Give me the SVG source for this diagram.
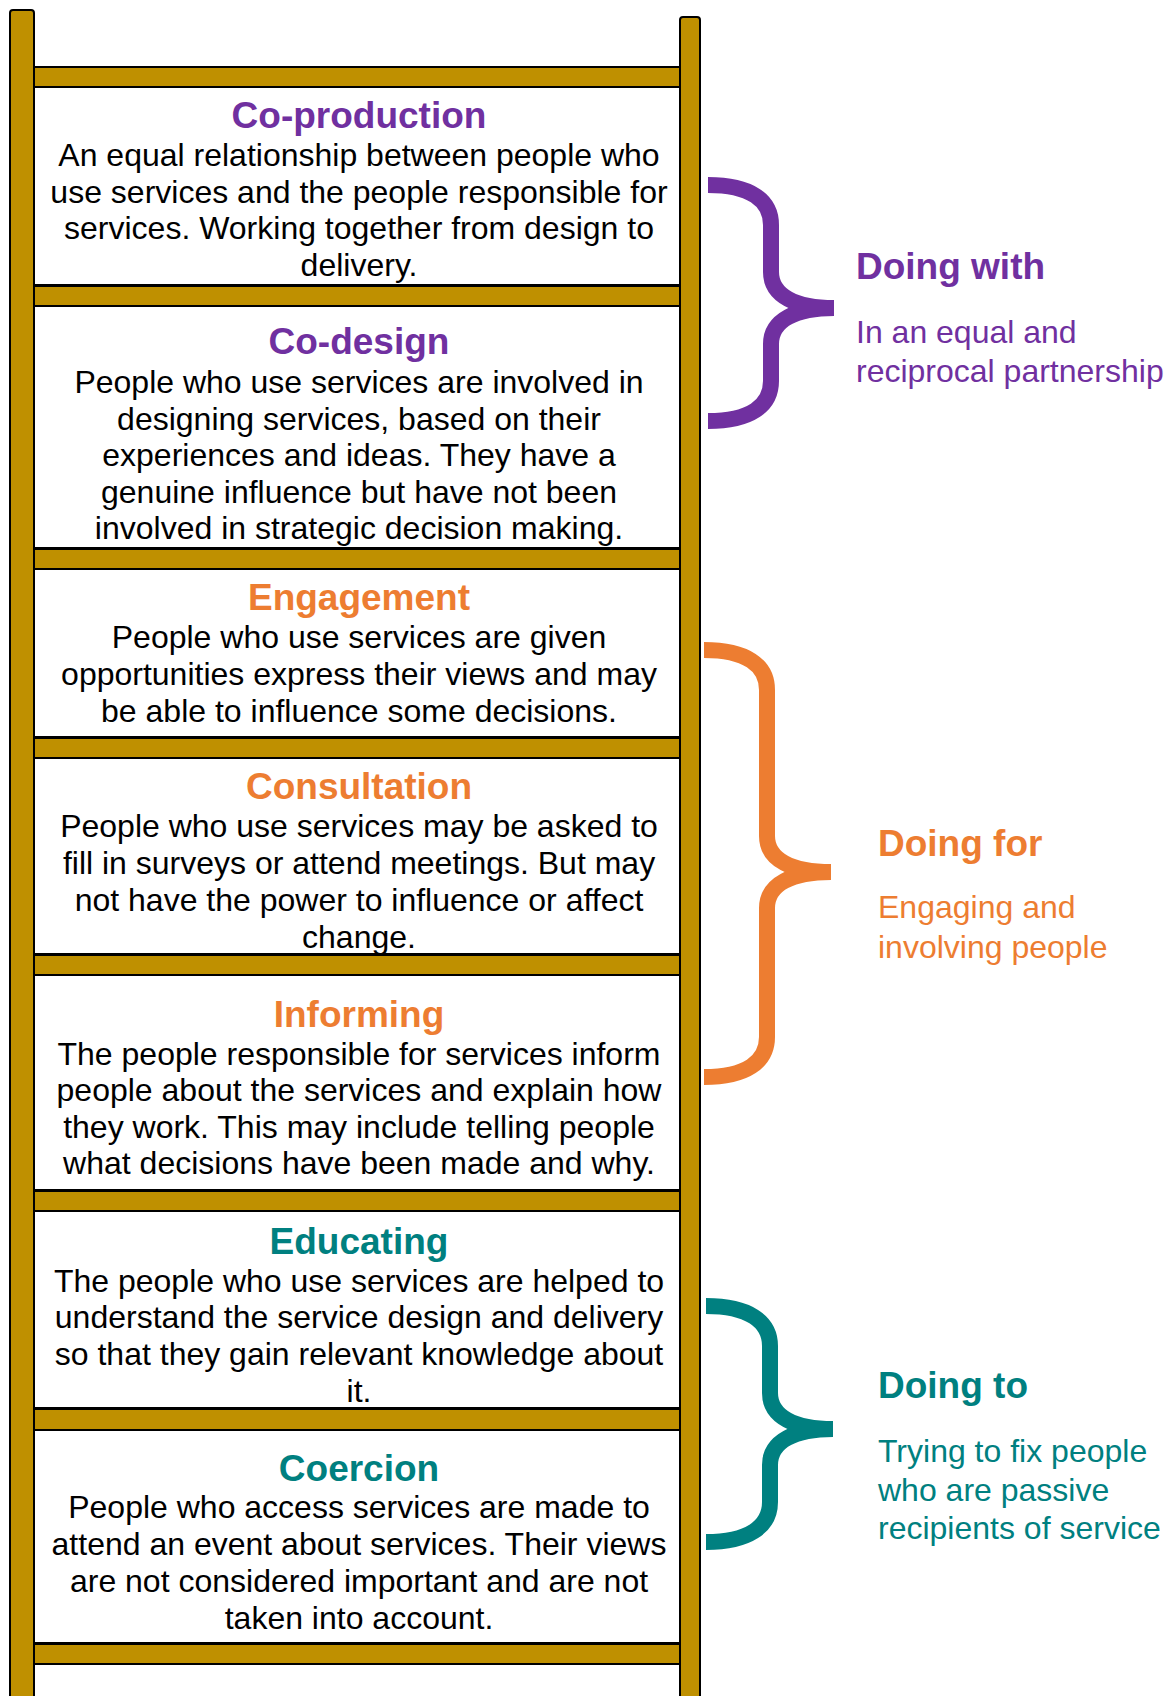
<svg xmlns="http://www.w3.org/2000/svg" width="1168" height="1696" viewBox="0 0 1168 1696">
<style>
.rail{fill:#BF9000;stroke:#000;stroke-width:2}
.rung{fill:#BF9000;stroke:#000;stroke-width:2}
.box{fill:#fff;stroke:#000;stroke-width:2}
text{font-family:"Liberation Sans",Arial,sans-serif}
.c{text-anchor:middle}
.title{font-size:37px;font-weight:bold}
.body{font-size:32px;fill:#000}
.sh{font-size:37px;font-weight:bold}
.st{font-size:32px}
.purple{fill:#7030A0}
.orange{fill:#ED7D31}
.teal{fill:#008080}
.brace{fill:none;stroke-width:16;stroke-linecap:butt;stroke-linejoin:miter}
</style>
<rect width="1168" height="1696" fill="#fff"/>
<g id="ladder">
<rect class="box" x="34" y="87" width="646" height="198"/>
<rect class="box" x="34" y="306" width="646" height="242"/>
<rect class="box" x="34" y="569" width="646" height="168"/>
<rect class="box" x="34" y="758" width="646" height="196"/>
<rect class="box" x="34" y="975" width="646" height="215"/>
<rect class="box" x="34" y="1211" width="646" height="197"/>
<rect class="box" x="34" y="1430" width="646" height="213"/>
<rect class="box" x="34" y="1664" width="646" height="40"/>
<rect class="rung" x="34" y="67" width="646" height="20"/>
<rect class="rung" x="34" y="286" width="646" height="20"/>
<rect class="rung" x="34" y="549" width="646" height="20"/>
<rect class="rung" x="34" y="738" width="646" height="20"/>
<rect class="rung" x="34" y="955" width="646" height="20"/>
<rect class="rung" x="34" y="1191" width="646" height="20"/>
<rect class="rung" x="34" y="1409" width="646" height="21"/>
<rect class="rung" x="34" y="1644" width="646" height="20"/>
<rect class="rail" x="10" y="10" width="24" height="1700" rx="3"/>
<rect class="rail" x="680" y="17" width="20" height="1690" rx="3"/>
</g>
<g id="co-production">
<text class="c title purple" x="359" y="128">Co-production</text>
<text class="c body" x="359" y="166">An equal relationship between people who</text>
<text class="c body" x="359" y="203">use services and the people responsible for</text>
<text class="c body" x="359" y="239">services. Working together from design to</text>
<text class="c body" x="359" y="276">delivery.</text>
</g>
<g id="co-design">
<text class="c title purple" x="359" y="354">Co-design</text>
<text class="c body" x="359" y="393">People who use services are involved in</text>
<text class="c body" x="359" y="430">designing services, based on their</text>
<text class="c body" x="359" y="466">experiences and ideas. They have a</text>
<text class="c body" x="359" y="503">genuine influence but have not been</text>
<text class="c body" x="359" y="539">involved in strategic decision making.</text>
</g>
<g id="engagement">
<text class="c title orange" x="359" y="610">Engagement</text>
<text class="c body" x="359" y="648">People who use services are given</text>
<text class="c body" x="359" y="685">opportunities express their views and may</text>
<text class="c body" x="359" y="722">be able to influence some decisions.</text>
</g>
<g id="consultation">
<text class="c title orange" x="359" y="799">Consultation</text>
<text class="c body" x="359" y="837">People who use services may be asked to</text>
<text class="c body" x="359" y="874">fill in surveys or attend meetings. But may</text>
<text class="c body" x="359" y="911">not have the power to influence or affect</text>
<text class="c body" x="359" y="948">change.</text>
</g>
<g id="informing">
<text class="c title orange" x="359" y="1027">Informing</text>
<text class="c body" x="359" y="1065">The people responsible for services inform</text>
<text class="c body" x="359" y="1101">people about the services and explain how</text>
<text class="c body" x="359" y="1138">they work. This may include telling people</text>
<text class="c body" x="359" y="1174">what decisions have been made and why.</text>
</g>
<g id="educating">
<text class="c title teal" x="359" y="1254">Educating</text>
<text class="c body" x="359" y="1292">The people who use services are helped to</text>
<text class="c body" x="359" y="1328">understand the service design and delivery</text>
<text class="c body" x="359" y="1365">so that they gain relevant knowledge about</text>
<text class="c body" x="359" y="1402">it.</text>
</g>
<g id="coercion">
<text class="c title teal" x="359" y="1481">Coercion</text>
<text class="c body" x="359" y="1518">People who access services are made to</text>
<text class="c body" x="359" y="1555">attend an event about services. Their views</text>
<text class="c body" x="359" y="1592">are not considered important and are not</text>
<text class="c body" x="359" y="1629">taken into account.</text>
</g>
<g id="connectors">
<path class="brace" stroke="#7030A0" d="M708,185 C750,185 771,200 771,225 L771,272 C771,296 796,308 834,308 M834,308 C796,308 771,320 771,344 L771,381 C771,406 750,421 708,421"/>
<path class="brace" stroke="#ED7D31" d="M704,650 C746,650 767,665 767,690 L767,836 C767,860 792,872 831,872 M831,872 C792,872 767,884 767,908 L767,1037 C767,1062 746,1077 704,1077"/>
<path class="brace" stroke="#008080" d="M706,1306 C748,1306 770,1321 770,1346 L770,1393 C770,1417 795,1429 833,1429 M833,1429 C795,1429 770,1441 770,1465 L770,1502 C770,1527 748,1542 706,1542"/>
</g>
<g id="doing-with">
<text class="sh purple" x="856" y="279">Doing with</text>
<text class="st purple" x="856" y="343">In an equal and</text>
<text class="st purple" x="856" y="382">reciprocal partnership</text>
</g>
<g id="doing-for">
<text class="sh orange" x="878" y="856">Doing for</text>
<text class="st orange" x="878" y="918">Engaging and</text>
<text class="st orange" x="878" y="958">involving people</text>
</g>
<g id="doing-to">
<text class="sh teal" x="878" y="1398">Doing to</text>
<text class="st teal" x="878" y="1462">Trying to fix people</text>
<text class="st teal" x="878" y="1501">who are passive</text>
<text class="st teal" x="878" y="1539">recipients of service</text>
</g>
</svg>
